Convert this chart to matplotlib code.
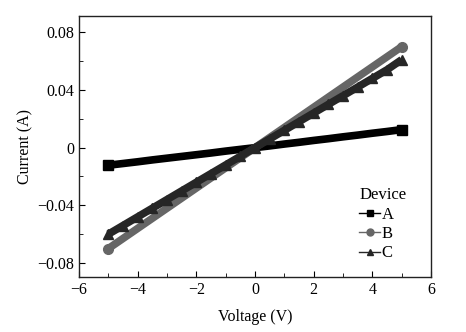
import numpy as np
import matplotlib.pyplot as plt
from matplotlib.ticker import MultipleLocator

# current (A) against voltage (V)
voltage = [-5.0, -4.5, -4.0, -3.5, -3.0, -2.5, -2.0, -1.5, -1.0, -0.5, 0.0,
           0.5, 1.0, 1.5, 2.0, 2.5, 3.0, 3.5, 4.0, 4.5, 5.0]
current_a = [-0.0122, -0.0110, -0.0098, -0.0085, -0.0073, -0.0061, -0.0049, -0.0037, -0.0024, -0.0012, 0.0,
             0.0012, 0.0025, 0.0037, 0.0050, 0.0062, 0.0075, 0.0087, 0.0100, 0.0112, 0.0125]
current_b = [-0.070, -0.063, -0.056, -0.049, -0.042, -0.035, -0.028, -0.021, -0.014, -0.007, 0.0,
             0.007, 0.014, 0.021, 0.028, 0.035, 0.042, 0.049, 0.056, 0.063, 0.070]
current_c = [-0.060, -0.054, -0.048, -0.042, -0.036, -0.030, -0.024, -0.018, -0.012, -0.006, 0.0,
             0.006, 0.012, 0.018, 0.024, 0.030, 0.036, 0.042, 0.048, 0.054, 0.061]
devices = ["A", "B", "C"]
y_ticks = [-0.08, -0.04, 0, 0.04, 0.08]
y_tick_labels = ["\u22120.08", "\u22120.04", "0", "0.04", "0.08"]
x_ticks = [-6, -4, -2, 0, 2, 4, 6]
x_tick_labels = ["\u22126", "\u22124", "\u22122", "0", "2", "4", "6"]

plt.rcParams["font.family"] = ["Liberation Serif", "DejaVu Serif"]

fig = plt.figure(figsize=(4.66, 3.32), dpi=100)
ax = fig.add_axes([79 / 466, 1 - 277 / 332, 352 / 466, 261 / 332])

# colour, marker, data, which points get a marker
styles = [("#000000", "s", current_a, [0, -1]),
          ("#666666", "o", current_b, [0, -1]),
          ("#262626", "^", current_c, None)]
order = [0, 2, 1]
handles = {}
for i in order:
    color, marker, cur, every = styles[i]
    ax.plot(voltage, cur, color=color, linewidth=5.5, solid_capstyle="butt", zorder=2 + i)
    ax.plot(voltage, cur, color=color, linestyle="none", marker=marker, markersize=7,
            markevery=every, zorder=2 + i)
    handles[i], = ax.plot([], [], color=color, marker=marker, markersize=5, linewidth=1)

leg = ax.legend([handles[i] for i in range(3)], devices, title="Device", frameon=False,
                loc="lower right", bbox_to_anchor=(0.963, 0.015), handlelength=1.25,
                handletextpad=0.1, labelspacing=0.2, fontsize=12, borderpad=0.2)
leg.get_title().set_fontsize(12)
leg._legend_box.align = "left"

ax.set_xlim(-6, 6)
ax.set_ylim(-0.0897, 0.0913)
ax.set_xticks(x_ticks)
ax.set_xticklabels(x_tick_labels)
ax.set_yticks(y_ticks)
ax.set_yticklabels(y_tick_labels)
ax.xaxis.set_minor_locator(MultipleLocator(1))
ax.yaxis.set_minor_locator(MultipleLocator(0.02))
ax.tick_params(which="both", direction="in", top=False, right=False, labelsize=11.5)
ax.tick_params(which="major", length=4)
ax.tick_params(which="minor", length=3)
for s in ax.spines.values():
    s.set_linewidth(1.0)
    s.set_color("#222222")

ax.set_xlabel("Voltage (V)", fontsize=11.5, labelpad=8)
ax.set_ylabel("Current (A)", fontsize=11.5, labelpad=3)

fig.savefig("out.png", dpi=100)
